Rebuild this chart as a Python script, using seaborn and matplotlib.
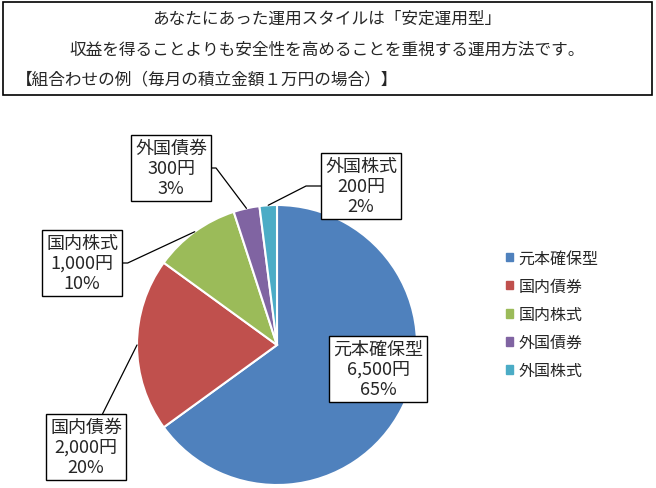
import numpy as np
import matplotlib
matplotlib.use("Agg")
import matplotlib.pyplot as plt
import matplotlib.patches as mpatches
import seaborn as sns

sns.set_style("white")
plt.rcParams["font.family"] = ["Noto Sans CJK JP", "DejaVu Sans"]

# data
categories = ["元本確保型", "国内債券", "国内株式", "外国債券", "外国株式"]
amounts = [6500, 2000, 1000, 300, 200]
colors = ["#4F81BD", "#C0504D", "#9BBB59", "#8064A2", "#4BACC6"]
title_lines = ["あなたにあった運用スタイルは「安定運用型」",
               "収益を得ることよりも安全性を高めることを重視する運用方法です。",
               "【組合わせの例（毎月の積立金額１万円の場合）】"]

# label box centres in pixels (x, y from top) and leader line style
label_px = [(378, 370), (86, 448), (82, 264), (171, 169), (361, 187)]
leader_conn = [None, "arc3", "angle,angleA=0,angleB=205,rad=0",
               "angle,angleA=0,angleB=127,rad=0", "angle,angleA=0,angleB=27,rad=0"]

W, H = 656, 489
cx, cy, R = 277, 346, 140  # pie centre / radius in px

fig = plt.figure(figsize=(W / 100, H / 100), dpi=100)

# header box
fig.patches.append(mpatches.Rectangle((3 / W, 1 - 96 / H), 649 / W, 93 / H,
                                      transform=fig.transFigure, fill=False,
                                      edgecolor="black", linewidth=1.2))
fig.text(327 / W, 1 - 19 / H, title_lines[0], ha="center", va="center", fontsize=12)
fig.text(327 / W, 1 - 50 / H, title_lines[1], ha="center", va="center", fontsize=12)
fig.text(16 / W, 1 - 80 / H, title_lines[2], ha="left", va="center", fontsize=12)

# axes covering the lower part, 1 data unit = R px
top = 100
ax = fig.add_axes([0, 0, 1, (H - top) / H])
wedges, _ = ax.pie(amounts, colors=colors, startangle=90, counterclock=False,
                   wedgeprops=dict(edgecolor="white", linewidth=1.5))
ax.set_xlim(-cx / R, (W - cx) / R)
ax.set_ylim((cy - H) / R, (cy - top) / R)
ax.set_aspect("equal")
ax.axis("off")


def px2data(px, py):
    return (px - cx) / R, (cy - py) / R


total = sum(amounts)
for i, (w, name, val) in enumerate(zip(wedges, categories, amounts)):
    txt = f"{name}\n{val:,}円\n{val / total * 100:.0f}%"
    tx, ty = px2data(*label_px[i])
    box = dict(boxstyle="square,pad=0.2", fc="white", ec="black", lw=1)
    if leader_conn[i] is None:
        ax.text(tx, ty, txt, ha="center", va="center", fontsize=13,
                linespacing=1.15, bbox=box)
    else:
        mid = np.deg2rad((w.theta1 + w.theta2) / 2)
        ax.annotate(txt, xy=(np.cos(mid), np.sin(mid)), xytext=(tx, ty),
                    ha="center", va="center", fontsize=13, linespacing=1.15,
                    bbox=box,
                    arrowprops=dict(arrowstyle="-", color="black", lw=0.9,
                                    shrinkA=0, shrinkB=0,
                                    connectionstyle=leader_conn[i]))

handles = [mpatches.Patch(color=c) for c in colors]
fig.legend(handles, categories, loc="center left",
           bbox_to_anchor=(506 / W, 1 - 315.5 / H), frameon=False,
           fontsize=11.5, handlelength=0.45, handleheight=0.45,
           handletextpad=0.35, labelspacing=0.7, borderpad=0, borderaxespad=0)

fig.savefig("out.png", dpi=100)
